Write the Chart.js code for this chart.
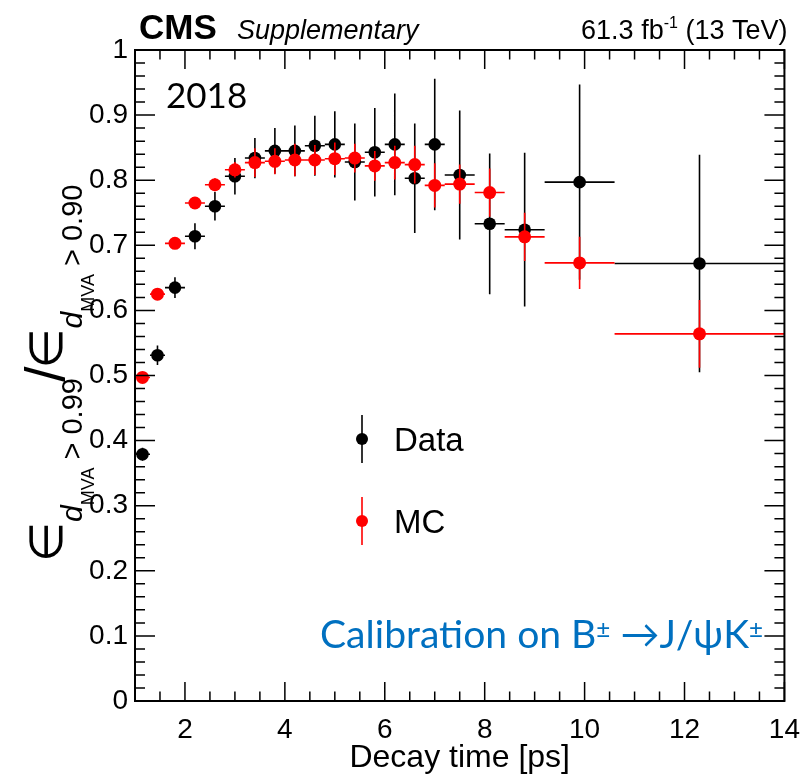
<!DOCTYPE html>
<html><head><meta charset="utf-8">
<script src="https://cdn.jsdelivr.net/npm/chart.js@4/dist/chart.umd.min.js"></script>
<style>html,body{margin:0;padding:0;background:#fff;overflow:hidden}canvas{display:block}</style>
</head><body>
<canvas id="c" width="812" height="774"></canvas>
<script>
// ---- data ----
const binLow    = [1.0,1.3,1.6,2.0,2.4,2.8,3.2,3.6,4.0,4.4,4.8,5.2,5.6,6.0,6.4,6.8,7.2,7.8,8.4,9.2,10.6];
const binHigh   = [1.3,1.6,2.0,2.4,2.8,3.2,3.6,4.0,4.4,4.8,5.2,5.6,6.0,6.4,6.8,7.2,7.8,8.4,9.2,10.6,14.0];
const binCenter = [1.15,1.45,1.8,2.2,2.6,3.0,3.4,3.8,4.2,4.6,5.0,5.4,5.8,6.2,6.6,7.0,7.5,8.1,8.8,9.9,12.3];
const dataEff = [0.379,0.531,0.635,0.714,0.760,0.806,0.834,0.845,0.845,0.853,0.855,0.828,0.843,0.855,0.803,0.855,0.808,0.733,0.724,0.797,0.672];
const dataErr = [0.010,0.015,0.016,0.020,0.022,0.028,0.031,0.035,0.039,0.046,0.051,0.059,0.068,0.078,0.084,0.101,0.099,0.108,0.118,0.150,0.167];
const mcEff   = [0.497,0.625,0.703,0.765,0.793,0.816,0.827,0.829,0.831,0.831,0.833,0.834,0.822,0.827,0.824,0.792,0.794,0.781,0.713,0.673,0.564];
const mcErr   = [0.005,0.006,0.006,0.008,0.010,0.012,0.022,0.020,0.025,0.023,0.025,0.022,0.023,0.026,0.029,0.034,0.030,0.037,0.037,0.040,0.052];
const xTickValues = [2,4,6,8,10,12,14];
const yTickValues = [0,0.1,0.2,0.3,0.4,0.5,0.6,0.7,0.8,0.9,1];
const yTickLabels = ['0','0.1','0.2','0.3','0.4','0.5','0.6','0.7','0.8','0.9','1'];
const seriesNames = ['Data','MC'];

const FONT = '"Liberation Sans", Arial, Helvetica, sans-serif';
const HUM = 'Lato, "Open Sans", sans-serif';

function points(eff, err){
  return binCenter.map((x,i)=>({x:x, y:eff[i], xl:binLow[i], xh:binHigh[i], e:err[i]}));
}

const errorBars = {
  id:'errorBars',
  beforeDatasetDraw(chart, args){
    const ds = chart.data.datasets[args.index];
    const xs = chart.scales.x, ys = chart.scales.y, ctx = chart.ctx, a = chart.chartArea;
    ctx.save();
    ctx.beginPath(); ctx.rect(a.left, a.top, a.right-a.left, a.bottom-a.top); ctx.clip();
    ctx.strokeStyle = ds.borderColor; ctx.lineWidth = 1.6;
    ctx.beginPath();
    ds.data.forEach(p=>{
      const px = xs.getPixelForValue(p.x), py = ys.getPixelForValue(p.y);
      ctx.moveTo(xs.getPixelForValue(p.xl), py); ctx.lineTo(xs.getPixelForValue(p.xh), py);
      ctx.moveTo(px, ys.getPixelForValue(p.y - p.e)); ctx.lineTo(px, ys.getPixelForValue(p.y + p.e));
    });
    ctx.stroke();
    ctx.restore();
  }
};

const frameTicks = {
  id:'frameTicks',
  afterDatasetsDraw(chart){
    const {ctx, chartArea:a} = chart; const xs = chart.scales.x, ys = chart.scales.y;
    ctx.save();
    ctx.strokeStyle = '#000'; ctx.lineWidth = 2;
    ctx.strokeRect(a.left, a.top, a.right-a.left, a.bottom-a.top);
    ctx.lineWidth = 1.5;
    ctx.beginPath();
    for(let k=0;k<=26;k++){
      const v = 1 + 0.5*k; const px = xs.getPixelForValue(v);
      const L = (v % 2 === 0) ? 19 : 9.5;
      ctx.moveTo(px, a.bottom); ctx.lineTo(px, a.bottom - L);
      ctx.moveTo(px, a.top); ctx.lineTo(px, a.top + L);
    }
    for(let k=0;k<=50;k++){
      const v = 0.02*k; const py = ys.getPixelForValue(v);
      const L = (k % 5 === 0) ? 20 : 10;
      ctx.moveTo(a.left, py); ctx.lineTo(a.left + L, py);
      ctx.moveTo(a.right, py); ctx.lineTo(a.right - L, py);
    }
    ctx.stroke();
    ctx.restore();
  }
};

const texts = {
  id:'texts',
  afterDraw(chart){
    const {ctx, chartArea:a} = chart;
    ctx.save();
    ctx.fillStyle = '#000'; ctx.textBaseline = 'alphabetic'; ctx.textAlign = 'left';
    // header
    ctx.font = 'bold 35px ' + FONT; ctx.fillText('CMS', 139, 39);
    ctx.font = 'italic 27px ' + FONT; ctx.fillText('Supplementary', 237, 39);
    // lumi (right aligned to frame)
    const t1 = '61.3 fb', t3 = ' (13 TeV)';
    ctx.font = '16px ' + FONT; const w2 = ctx.measureText('-1').width;
    ctx.font = '27px ' + FONT; const w1 = ctx.measureText(t1).width, w3 = ctx.measureText(t3).width;
    let lx = a.right + 3 - (w1 + w2 + w3);
    ctx.fillText(t1, lx, 39); lx += w1;
    ctx.font = '16px ' + FONT; ctx.fillText('-1', lx, 28); lx += w2;
    ctx.font = '27px ' + FONT; ctx.fillText(t3, lx, 39);
    // year
    ctx.font = '35px ' + HUM; ctx.fillText('2018', 166, 108);
    // calibration text with raised small ±
    ctx.fillStyle = '#0070c0';
    const calSegs = [['Calibration on B',0,1],['\u00b1',-10,0.62],[' \u2192J/\u03c8K',0,1],['\u00b1',-10,0.62]];
    const base = 36;
    let tot = 0;
    calSegs.forEach(s=>{ ctx.font = (base*s[2]).toFixed(1)+'px '+HUM; tot += ctx.measureText(s[0]).width; });
    const k = 443 / tot;
    let cx0 = 320;
    calSegs.forEach(s=>{
      ctx.font = (base*s[2]*k).toFixed(1)+'px '+HUM;
      ctx.fillText(s[0], cx0, 648 + s[1]);
      cx0 += ctx.measureText(s[0]).width;
    });
    // legend
    const leg = [{y:439, c:'#000', name:seriesNames[0]},{y:521, c:'#ff0000', name:seriesNames[1]}];
    leg.forEach(l=>{
      ctx.strokeStyle = l.c; ctx.fillStyle = l.c; ctx.lineWidth = 1.6;
      ctx.beginPath(); ctx.moveTo(362, l.y-24); ctx.lineTo(362, l.y+24); ctx.stroke();
      ctx.beginPath(); ctx.arc(362, l.y, 6, 0, 2*Math.PI); ctx.fill();
      ctx.fillStyle = '#000'; ctx.font = '33px ' + FONT; ctx.textBaseline = 'alphabetic';
      ctx.fillText(l.name, 394, l.y + 12);
    });
    // y axis title (rotated, with sub/sub-sub scripts)
    ctx.fillStyle = '#000';
    ctx.translate(62, 562); ctx.rotate(-Math.PI/2);
    let cx = 0;
    const seg = (txt, font, dy, dx) => { cx += (dx||0); ctx.font = font; ctx.fillText(txt, cx, dy); cx += ctx.measureText(txt).width; };
    const big = '46px "DejaVu Sans", ' + FONT, sub = '29px ' + FONT, subi = 'italic 30px ' + FONT, ss = '18px ' + FONT;
    seg('\u2208', big, 0); seg('d', subi, 20); seg('MVA', ss, 32); seg(' > 0.99', sub, 20);
    seg('/', '56px ' + FONT, 2, -4);
    seg('\u2208', big, 0, -2); seg('d', subi, 20); seg('MVA', ss, 32); seg(' > 0.90', sub, 20);
    ctx.restore();
  }
};

const chart = new Chart(document.getElementById('c'), {
  type:'scatter',
  data:{
    datasets:[
      {label:seriesNames[0], data:points(dataEff, dataErr), backgroundColor:'#000', borderColor:'#000',
       pointRadius:6.3, pointBorderWidth:0, pointHoverRadius:6.3, order:2},
      {label:seriesNames[1], data:points(mcEff, mcErr), backgroundColor:'#ff0000', borderColor:'#ff0000',
       pointRadius:6.5, pointBorderWidth:0, pointHoverRadius:6.5, order:1}
    ]
  },
  options:{
    responsive:false, animation:false, events:[],
    layout:{padding:{left:0, right:21, top:50, bottom:0}},
    plugins:{legend:{display:false}, tooltip:{enabled:false}},
    scales:{
      x:{type:'linear', min:1, max:14,
         grid:{display:false, drawTicks:false}, border:{display:false},
         afterBuildTicks:s=>{ s.ticks = xTickValues.map(v=>({value:v})); },
         afterFit:s=>{ s.height = 73; },
         ticks:{font:{family:FONT, size:28}, color:'#000', padding:12, maxRotation:0, autoSkip:false,
                callback:(v)=>String(v)},
         title:{display:true, text:'Decay time [ps]', font:{family:FONT, size:32, lineHeight:1.0}, color:'#000', padding:0}
      },
      y:{type:'linear', min:0, max:1,
         grid:{display:false, drawTicks:false}, border:{display:false},
         afterBuildTicks:s=>{ s.ticks = yTickValues.map(v=>({value:v})); },
         afterFit:s=>{ s.width = 135; },
         ticks:{font:{family:FONT, size:28}, color:'#000', padding:7, autoSkip:false,
                callback:(v,i)=>yTickLabels[i]}
      }
    }
  },
  plugins:[errorBars, frameTicks, texts]
});
</script>
</body></html>
